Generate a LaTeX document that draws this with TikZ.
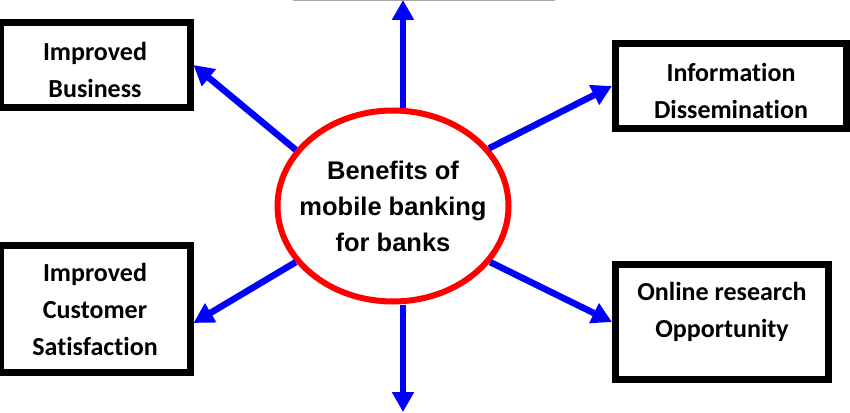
\documentclass[tikz,border=0pt]{standalone}
\usepackage{fontspec}
\usepackage{tikz}
\usetikzlibrary{arrows.meta,shapes.geometric}
\newfontfamily\boxfont{Carlito}[Ligatures=NoCommon]
\newfontfamily\hubfont{Liberation Sans}
\definecolor{arrowblue}{HTML}{0000FF}
\definecolor{ringred}{HTML}{FF0000}

\begin{document}
\begin{tikzpicture}[x=1pt,y=-1pt,>={Triangle[width=21pt,length=20pt]},
  benefit/.style={draw,line width=7pt,align=center,inner sep=0pt,
    font=\boxfont\bfseries\fontsize{26}{37}\selectfont},
  flow/.style={->,arrowblue,line width=6.5pt}]
  \useasboundingbox (0,0) rectangle (850,412);
  \draw[gray!70,line width=1.5pt] (293,0) -- (555,0);
  \node[ellipse,draw=ringred,line width=6pt,minimum width=231pt,minimum height=191pt,
    inner xsep=-25pt,inner ysep=0pt,align=center,font=\hubfont\bfseries\fontsize{25.5}{36}\selectfont]
    (hub) at (393,206) {Benefits of\\mobile banking\\for banks};
  \node[benefit,minimum width=190pt,minimum height=85pt,text height=65pt] (business) at (95,65) {Improved\\Business};
  \node[benefit,minimum width=231pt,minimum height=85pt,text height=65pt] (dissem) at (731,86) {Information\\Dissemination};
  \node[benefit,minimum width=190pt,minimum height=127pt] (customer) at (95,309) {Improved\\Customer\\Satisfaction};
  \node[benefit,minimum width=213pt,minimum height=115pt,text depth=25pt] (research) at (722,322) {Online research\\Opportunity};
  \coordinate (topend) at (403,0);
  \coordinate (bottomend) at (403,412);
  \draw[flow] (hub.north -| topend) -- (topend);
  \draw[flow] (hub.south -| bottomend) -- (bottomend);
  \draw[flow] (hub.150) -- (business.east);
  \draw[flow] (hub.31) -- (dissem.west);
  \draw[flow] (hub.210) -- ([yshift=-14pt]customer.east);
  \draw[flow] (hub.-30) -- (research.west);
\end{tikzpicture}
\end{document}
